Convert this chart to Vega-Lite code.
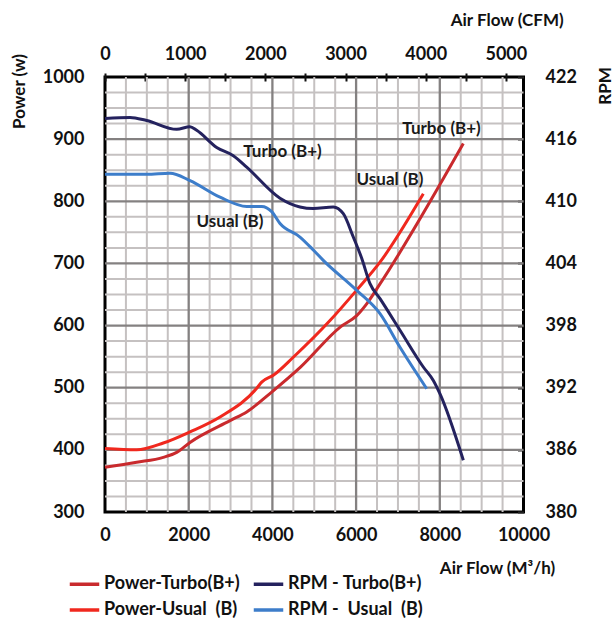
{
  "$schema": "https://vega.github.io/schema/vega-lite/v6.json",
  "width": 418.5,
  "height": 435,
  "autosize": {"type": "none"},
  "padding": {"left": 105, "top": 77, "right": 92, "bottom": 107},
  "background": "white",
  "config": {
    "font": "Lato",
    "view": {"stroke": "#000000", "strokeWidth": 3},
    "axis": {
      "domain": false, "grid": false,
      "labelFont": "Lato", "labelFontSize": 18, "labelFontWeight": "bold", "labelColor": "#111111",
      "titleFont": "Lato", "titleFontSize": 17, "titleFontWeight": "bold", "titleColor": "#111111",
      "labelOverlap": false, "labelFlush": false, "labelBound": false
    },
    "legend": {
      "orient": "none", "legendX": -37, "legendY": 490.5, "columns": 2, "padding": 0,
      "symbolType": "M-1,0L1,0", "symbolSize": 870, "symbolStrokeWidth": 3.5,
      "labelFont": "Lato", "labelFontSize": 18, "labelFontWeight": "bold", "labelColor": "#111111",
      "labelOffset": 3, "columnPadding": 6, "rowPadding": -4.2
    }
  },
  "datasets": {
    "vgrid": [
      {"flow": 500, "major": false}, {"flow": 1000, "major": false}, {"flow": 1500, "major": false},
      {"flow": 2500, "major": false}, {"flow": 3000, "major": false}, {"flow": 3500, "major": false},
      {"flow": 4500, "major": false}, {"flow": 5000, "major": false}, {"flow": 5500, "major": false},
      {"flow": 6500, "major": false}, {"flow": 7000, "major": false}, {"flow": 7500, "major": false},
      {"flow": 8500, "major": false}, {"flow": 9000, "major": false}, {"flow": 9500, "major": false},
      {"flow": 2000, "major": true}, {"flow": 4000, "major": true}, {"flow": 6000, "major": true}, {"flow": 8000, "major": true}
    ],
    "hgrid": [
      {"watts": 325, "major": false}, {"watts": 350, "major": false}, {"watts": 375, "major": false},
      {"watts": 425, "major": false}, {"watts": 450, "major": false}, {"watts": 475, "major": false},
      {"watts": 525, "major": false}, {"watts": 550, "major": false}, {"watts": 575, "major": false},
      {"watts": 625, "major": false}, {"watts": 650, "major": false}, {"watts": 675, "major": false},
      {"watts": 725, "major": false}, {"watts": 750, "major": false}, {"watts": 775, "major": false},
      {"watts": 825, "major": false}, {"watts": 850, "major": false}, {"watts": 875, "major": false},
      {"watts": 925, "major": false}, {"watts": 950, "major": false}, {"watts": 975, "major": false},
      {"watts": 400, "major": true}, {"watts": 500, "major": true}, {"watts": 600, "major": true},
      {"watts": 700, "major": true}, {"watts": 800, "major": true}, {"watts": 900, "major": true}
    ],
    "power": [
      {"series": "Power-Turbo(B+)", "flow": 0, "watts": 372},
      {"series": "Power-Turbo(B+)", "flow": 757, "watts": 380},
      {"series": "Power-Turbo(B+)", "flow": 1393, "watts": 388},
      {"series": "Power-Turbo(B+)", "flow": 1713, "watts": 396},
      {"series": "Power-Turbo(B+)", "flow": 2031, "watts": 412},
      {"series": "Power-Turbo(B+)", "flow": 2987, "watts": 447},
      {"series": "Power-Turbo(B+)", "flow": 3386, "watts": 461},
      {"series": "Power-Turbo(B+)", "flow": 3983, "watts": 493},
      {"series": "Power-Turbo(B+)", "flow": 4671, "watts": 533},
      {"series": "Power-Turbo(B+)", "flow": 5627, "watts": 598},
      {"series": "Power-Turbo(B+)", "flow": 6014, "watts": 616},
      {"series": "Power-Turbo(B+)", "flow": 6253, "watts": 635},
      {"series": "Power-Turbo(B+)", "flow": 6571, "watts": 667},
      {"series": "Power-Turbo(B+)", "flow": 8562, "watts": 893},
      {"series": "Power-Usual\u00a0 (B)", "flow": 0, "watts": 402},
      {"series": "Power-Usual\u00a0 (B)", "flow": 757, "watts": 400},
      {"series": "Power-Usual\u00a0 (B)", "flow": 1393, "watts": 411},
      {"series": "Power-Usual\u00a0 (B)", "flow": 2031, "watts": 429},
      {"series": "Power-Usual\u00a0 (B)", "flow": 2748, "watts": 453},
      {"series": "Power-Usual\u00a0 (B)", "flow": 3625, "watts": 499},
      {"series": "Power-Usual\u00a0 (B)", "flow": 3744, "watts": 509},
      {"series": "Power-Usual\u00a0 (B)", "flow": 4022, "watts": 520},
      {"series": "Power-Usual\u00a0 (B)", "flow": 4499, "watts": 549},
      {"series": "Power-Usual\u00a0 (B)", "flow": 5376, "watts": 608},
      {"series": "Power-Usual\u00a0 (B)", "flow": 6014, "watts": 657},
      {"series": "Power-Usual\u00a0 (B)", "flow": 6571, "watts": 702},
      {"series": "Power-Usual\u00a0 (B)", "flow": 7606, "watts": 812}
    ],
    "rpm": [
      {"series": "RPM - Turbo(B+)", "flow": 0, "rpm": 418.0},
      {"series": "RPM - Turbo(B+)", "flow": 597, "rpm": 418.1},
      {"series": "RPM - Turbo(B+)", "flow": 996, "rpm": 417.8},
      {"series": "RPM - Turbo(B+)", "flow": 1713, "rpm": 416.95},
      {"series": "RPM - Turbo(B+)", "flow": 2031, "rpm": 417.2},
      {"series": "RPM - Turbo(B+)", "flow": 2191, "rpm": 416.85},
      {"series": "RPM - Turbo(B+)", "flow": 2669, "rpm": 415.2},
      {"series": "RPM - Turbo(B+)", "flow": 3066, "rpm": 414.4},
      {"series": "RPM - Turbo(B+)", "flow": 3386, "rpm": 413.3},
      {"series": "RPM - Turbo(B+)", "flow": 4182, "rpm": 410.3},
      {"series": "RPM - Turbo(B+)", "flow": 4659, "rpm": 409.45},
      {"series": "RPM - Turbo(B+)", "flow": 4977, "rpm": 409.3},
      {"series": "RPM - Turbo(B+)", "flow": 5455, "rpm": 409.45},
      {"series": "RPM - Turbo(B+)", "flow": 5694, "rpm": 408.8},
      {"series": "RPM - Turbo(B+)", "flow": 5933, "rpm": 406.55},
      {"series": "RPM - Turbo(B+)", "flow": 6134, "rpm": 404.5},
      {"series": "RPM - Turbo(B+)", "flow": 6332, "rpm": 402.05},
      {"series": "RPM - Turbo(B+)", "flow": 6571, "rpm": 400.6},
      {"series": "RPM - Turbo(B+)", "flow": 7049, "rpm": 397.55},
      {"series": "RPM - Turbo(B+)", "flow": 7606, "rpm": 394.0},
      {"series": "RPM - Turbo(B+)", "flow": 7845, "rpm": 392.7},
      {"series": "RPM - Turbo(B+)", "flow": 8005, "rpm": 391.4},
      {"series": "RPM - Turbo(B+)", "flow": 8562, "rpm": 385.0},
      {"series": "RPM -\u00a0 Usual\u00a0 (B)", "flow": 0, "rpm": 412.6},
      {"series": "RPM -\u00a0 Usual\u00a0 (B)", "flow": 996, "rpm": 412.6},
      {"series": "RPM -\u00a0 Usual\u00a0 (B)", "flow": 1553, "rpm": 412.7},
      {"series": "RPM -\u00a0 Usual\u00a0 (B)", "flow": 2031, "rpm": 412.0},
      {"series": "RPM -\u00a0 Usual\u00a0 (B)", "flow": 2748, "rpm": 410.4},
      {"series": "RPM -\u00a0 Usual\u00a0 (B)", "flow": 3386, "rpm": 409.5},
      {"series": "RPM -\u00a0 Usual\u00a0 (B)", "flow": 3744, "rpm": 409.5},
      {"series": "RPM -\u00a0 Usual\u00a0 (B)", "flow": 3983, "rpm": 409.0},
      {"series": "RPM -\u00a0 Usual\u00a0 (B)", "flow": 4182, "rpm": 407.85},
      {"series": "RPM -\u00a0 Usual\u00a0 (B)", "flow": 4659, "rpm": 406.55},
      {"series": "RPM -\u00a0 Usual\u00a0 (B)", "flow": 4977, "rpm": 405.3},
      {"series": "RPM -\u00a0 Usual\u00a0 (B)", "flow": 5216, "rpm": 404.3},
      {"series": "RPM -\u00a0 Usual\u00a0 (B)", "flow": 6014, "rpm": 401.4},
      {"series": "RPM -\u00a0 Usual\u00a0 (B)", "flow": 6571, "rpm": 399.15},
      {"series": "RPM -\u00a0 Usual\u00a0 (B)", "flow": 7049, "rpm": 395.9},
      {"series": "RPM -\u00a0 Usual\u00a0 (B)", "flow": 7687, "rpm": 391.9}
    ],
    "labels": [
      {"text": "Turbo (B+)", "flow": 4241, "watts": 880},
      {"text": "Usual (B)", "flow": 2987, "watts": 766},
      {"text": "Usual (B)", "flow": 6810, "watts": 834},
      {"text": "Turbo (B+)", "flow": 8041, "watts": 917}
    ],
    "cfm": [
      {"cfm": 0},
      {"cfm": 5220}
    ]
  },
  "layer": [
    {
      "data": {"name": "vgrid"},
      "transform": [{"filter": "!datum.major"}],
      "mark": {"type": "rule", "stroke": "#c5c1c1", "strokeWidth": 2},
      "encoding": {
        "x": {"field": "flow", "type": "quantitative", "scale": {"domain": [0, 10000], "nice": false, "zero": false}, "axis": null},
        "y": {"datum": 300, "type": "quantitative", "scale": {"domain": [300, 1000], "nice": false, "zero": false}, "axis": null},
        "y2": {"datum": 1000}
      }
    },
    {
      "data": {"name": "hgrid"},
      "transform": [{"filter": "!datum.major"}],
      "mark": {"type": "rule", "stroke": "#c5c1c1", "strokeWidth": 2},
      "encoding": {
        "y": {"field": "watts", "type": "quantitative", "scale": {"domain": [300, 1000], "nice": false, "zero": false}, "axis": null},
        "x": {"datum": 0, "type": "quantitative", "scale": {"domain": [0, 10000], "nice": false, "zero": false}, "axis": null},
        "x2": {"datum": 10000}
      }
    },
    {
      "data": {"name": "vgrid"},
      "transform": [{"filter": "datum.major"}],
      "mark": {"type": "rule", "stroke": "#848181", "strokeWidth": 2.3},
      "encoding": {
        "x": {"field": "flow", "type": "quantitative", "scale": {"domain": [0, 10000], "nice": false, "zero": false}, "axis": null},
        "y": {"datum": 300, "type": "quantitative", "scale": {"domain": [300, 1000], "nice": false, "zero": false}, "axis": null},
        "y2": {"datum": 1000}
      }
    },
    {
      "data": {"name": "hgrid"},
      "transform": [{"filter": "datum.major"}],
      "mark": {"type": "rule", "stroke": "#848181", "strokeWidth": 2.3},
      "encoding": {
        "y": {"field": "watts", "type": "quantitative", "scale": {"domain": [300, 1000], "nice": false, "zero": false}, "axis": null},
        "x": {"datum": 0, "type": "quantitative", "scale": {"domain": [0, 10000], "nice": false, "zero": false}, "axis": null},
        "x2": {"datum": 10000}
      }
    },
    {
      "data": {"name": "labels"},
      "mark": {"type": "text", "font": "Lato", "fontSize": 17, "fontWeight": "bold", "color": "#1a1a1a", "align": "center", "baseline": "middle"},
      "encoding": {
        "x": {"field": "flow", "type": "quantitative", "scale": {"domain": [0, 10000], "nice": false, "zero": false}, "axis": null},
        "y": {"field": "watts", "type": "quantitative", "scale": {"domain": [300, 1000], "nice": false, "zero": false}, "axis": null},
        "text": {"field": "text"}
      }
    },
    {
      "data": {"name": "power"},
      "mark": {"type": "line", "strokeWidth": 3, "interpolate": "monotone"},
      "encoding": {
        "x": {
          "field": "flow", "type": "quantitative",
          "scale": {"domain": [0, 10000], "nice": false, "zero": false},
          "axis": {
            "orient": "bottom",
            "values": [0,2000,4000,6000,8000,10000],
            "format": "d",
            "ticks": false,
            "labelPadding": 14,
            "title": "Air Flow (M³/h)",
            "titleX": 392, "titleY": 56, "titleAlign": "center", "titleBaseline": "middle", "titleAnchor": null
          }
        },
        "y": {
          "field": "watts", "type": "quantitative",
          "scale": {"domain": [300, 1000], "nice": false, "zero": false},
          "axis": {
            "orient": "left",
            "values": [300,400,500,600,700,800,900,1000],
            "format": "d",
            "ticks": false,
            "labelPadding": 21,
            "title": "Power (w)",
            "titleX": -85.5, "titleY": 14, "titleAngle": 270, "titleAlign": "center", "titleBaseline": "middle", "titleAnchor": null
          }
        },
        "color": {
          "field": "series", "type": "nominal",
          "scale": {
            "domain": ["Power-Turbo(B+)", "Power-Usual\u00a0 (B)", "RPM - Turbo(B+)", "RPM -\u00a0 Usual\u00a0 (B)"],
            "range": ["#c92a2d", "#f0281e", "#24225e", "#3d7dca"]
          },
          "legend": {"title": null}
        }
      }
    },
    {
      "data": {"name": "rpm"},
      "mark": {"type": "line", "strokeWidth": 3, "interpolate": "monotone"},
      "encoding": {
        "x": {
          "field": "flow", "type": "quantitative",
          "scale": {"domain": [0, 10000], "nice": false, "zero": false},
          "axis": null
        },
        "y": {
          "field": "rpm", "type": "quantitative",
          "scale": {"domain": [380, 422], "nice": false, "zero": false},
          "axis": {
            "orient": "right",
            "values": [380,386,392,398,404,410,416,422],
            "format": "d",
            "offset": -6,
            "ticks": true, "tickSize": 6, "tickWidth": 2, "tickColor": "#222222",
            "labelPadding": 21.5,
            "title": "RPM",
            "titleX": 87.5, "titleY": 8.5, "titleAngle": 270, "titleAlign": "center", "titleBaseline": "middle", "titleAnchor": null
          }
        },
        "color": {"field": "series", "type": "nominal"}
      }
    },
    {
      "data": {"name": "cfm"},
      "mark": {"type": "point", "opacity": 0},
      "encoding": {
        "x": {
          "field": "cfm", "type": "quantitative",
          "scale": {"domain": [0, 5220], "nice": false, "zero": false},
          "axis": {
            "orient": "top",
            "values": [0,500,1000,1500,2000,2500,3000,3500,4000,4500,5000],
            "format": "d",
            "labelExpr": "datum.value % 1000 === 0 ? datum.label : ''",
            "offset": -4,
            "ticks": true, "tickSize": 8, "tickWidth": 2, "tickColor": "#111111",
            "labelPadding": 10,
            "title": "Air Flow (CFM)",
            "titleX": 401.7, "titleY": -60.7, "titleAlign": "center", "titleBaseline": "middle", "titleAnchor": null
          }
        }
      }
    }
  ],
  "resolve": {"scale": {"x": "independent", "y": "independent"}, "axis": {"x": "independent", "y": "independent"}}
}
